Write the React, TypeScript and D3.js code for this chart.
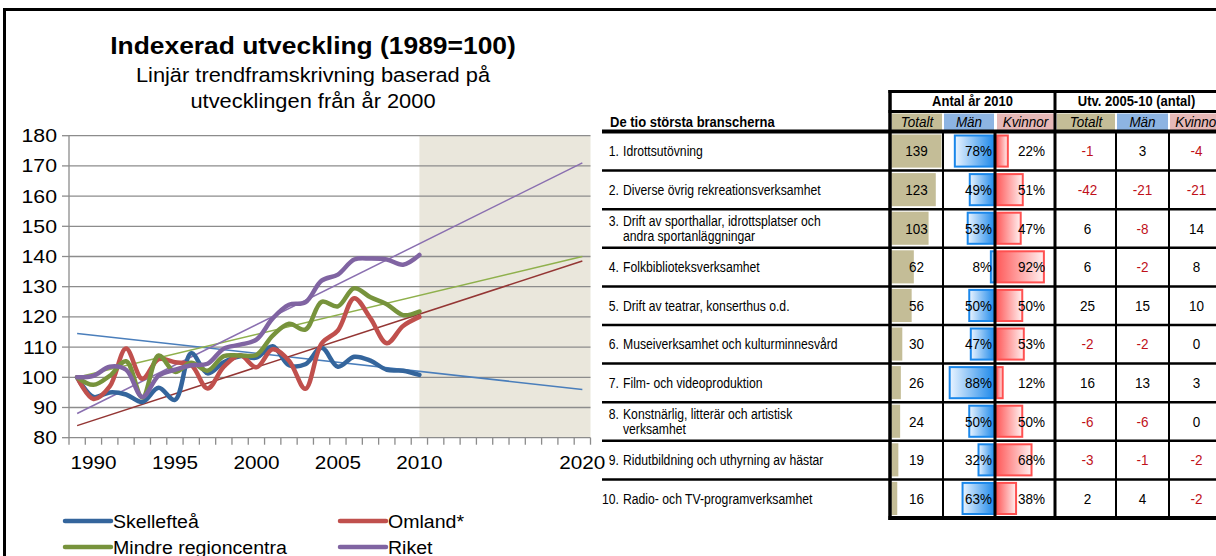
import React from "react";
import * as d3 from "d3";

// chart data
const dataYears = [1989, 1990, 1991, 1992, 1993, 1994, 1995, 1996, 1997, 1998, 1999, 2000, 2001, 2002, 2003, 2004, 2005, 2006, 2007, 2008, 2009, 2010];
const axisYears = d3.range(1989, 2021);
const tickYears = [1990, 1995, 2000, 2005, 2010, 2020];
const yTicks = [80, 90, 100, 110, 120, 130, 140, 150, 160, 170, 180];

const skelleftea = [100, 93.5, 95, 94.3, 91.8, 96.5, 92.5, 108, 101.3, 105, 107, 106.5, 110.3, 104, 104.3, 109.8, 103.5, 106.8, 105.5, 102.5, 102.2, 100.8];
const omland = [100, 92.8, 97, 109.5, 99.5, 106, 105, 104, 96.3, 103.5, 107.3, 103.3, 109.3, 105.5, 96.2, 111.2, 115.5, 126.2, 119.5, 111.3, 117, 120];
const mindre = [100, 97.5, 100.5, 105.3, 93.3, 107.2, 101.8, 104.8, 102.2, 107, 107.2, 107.4, 113.8, 117.7, 115.8, 125, 123.5, 129.5, 126.5, 124.2, 120.6, 121.8];
const riket = [100, 100.5, 103.5, 102.5, 93.5, 100.5, 102.5, 104, 104.5, 109.5, 110.8, 112.5, 119.5, 124, 124.8, 132, 134, 139, 139.3, 139, 137.3, 140.5];

// linear trend lines, 1989 -> 2020
const trendYears = [1989, 2020];
const trendSkelleftea = [114.5, 96];
const trendOmland = [84, 138.5];
const trendMindre = [100, 140];
const trendRiket = [88, 171];

// table data
const branches = [
  ["Idrottsutövning"],
  ["Diverse övrig rekreationsverksamhet"],
  ["Drift av sporthallar, idrottsplatser och", "andra sportanläggningar"],
  ["Folkbiblioteksverksamhet"],
  ["Drift av teatrar, konserthus o.d."],
  ["Museiverksamhet och kulturminnesvård"],
  ["Film- och videoproduktion"],
  ["Konstnärlig, litterär och artistisk", "verksamhet"],
  ["Ridutbildning och uthyrning av hästar"],
  ["Radio- och TV-programverksamhet"],
];
const totalt2010 = [139, 123, 103, 62, 56, 30, 26, 24, 19, 16];
const manPct = [78, 49, 53, 8, 50, 47, 88, 50, 32, 63];
const kvinnorPct = [22, 51, 47, 92, 50, 53, 12, 50, 68, 38];
const utvTotalt = [-1, -42, 6, 6, 25, -2, 16, -6, -3, 2];
const utvMan = [3, -21, -8, -2, 15, -2, 13, -6, -1, 4];
const utvKvinnor = [-4, -21, 14, 8, 10, 0, 3, 0, -2, -2];

const FONT = "'Liberation Sans', Arial, sans-serif";

const series = [
  { name: "Skellefteå", values: skelleftea, trend: trendSkelleftea, color: "#34659c", trendColor: "#4a7ebb" },
  { name: "Omland*", values: omland, trend: trendOmland, color: "#c0504d", trendColor: "#943634" },
  { name: "Mindre regioncentra", values: mindre, trend: trendMindre, color: "#77933c", trendColor: "#8fb04c" },
  { name: "Riket", values: riket, trend: trendRiket, color: "#8064a2", trendColor: "#8a6fb0" },
];

// text slightly stretched sideways like the pasted picture
function SText({ x, y, children, size, anchor = "start", weight = "normal", sx = 1.1, style = "normal", fill = "#000" }: any) {
  return (
    <text
      transform={`translate(${x},${y}) scale(${sx},1)`}
      fontSize={size}
      fontFamily={FONT}
      fontWeight={weight}
      fontStyle={style}
      textAnchor={anchor}
      fill={fill}
    >
      {children}
    </text>
  );
}

function LineChart() {
  const x = d3.scaleBand<number>().domain(axisYears).range([69, 590.5]);
  const xc = (yr: number) => (x(yr) as number) + x.bandwidth() / 2;
  const y = d3.scaleLinear().domain([80, 180]).range([437.7, 135.7]);
  const line = d3
    .line<number>()
    .x((_, i) => xc(dataYears[i]))
    .y((d) => y(d))
    .curve(d3.curveCatmullRom.alpha(0.5));
  const trendLine = d3
    .line<number>()
    .x((_, i) => xc(trendYears[i]))
    .y((d) => y(d));

  const [x0, x1] = x.range();
  return (
    <g>
      <SText x={313} y={54} size={24} weight="bold" anchor="middle" sx={1.1}>Indexerad utveckling (1989=100)</SText>
      <SText x={313} y={82} size={19.5} anchor="middle" sx={1.12}>Linjär trendframskrivning baserad på</SText>
      <SText x={313} y={108} size={19.5} anchor="middle" sx={1.12}>utvecklingen från år 2000</SText>

      <rect x={xc(2010)} y={y(180)} width={x1 - xc(2010)} height={y(80) - y(180)} fill="#eae7dc" />
      {yTicks.map((t) => (
        <g key={t}>
          <line x1={x0} x2={x1} y1={y(t)} y2={y(t)} stroke="#8c8c8c" strokeWidth={1.3} />
          <line x1={x0 - 7} x2={x0} y1={y(t)} y2={y(t)} stroke="#8c8c8c" strokeWidth={1.3} />
          <SText x={57} y={y(t) + 6.5} size={18.5} anchor="end" sx={1.15}>{t}</SText>
        </g>
      ))}
      <line x1={x0} x2={x0} y1={y(180)} y2={y(80)} stroke="#8c8c8c" strokeWidth={1.3} />
      {axisYears.concat([2021]).map((yr, i) => {
        const px = i < axisYears.length ? (x(yr) as number) : x1;
        return <line key={yr} x1={px} x2={px} y1={y(80)} y2={y(80) + 7} stroke="#8c8c8c" strokeWidth={1.3} />;
      })}
      {tickYears.map((yr) => (
        <SText key={yr} x={xc(yr)} y={469} size={18.5} anchor="middle" sx={1.12}>{yr}</SText>
      ))}

      {series.map((s) => (
        <path key={s.name + "t"} d={trendLine(s.trend) as string} fill="none" stroke={s.trendColor} strokeWidth={1.5} />
      ))}
      {series.map((s) => (
        <path key={s.name} d={line(s.values) as string} fill="none" stroke={s.color} strokeWidth={4.5} strokeLinecap="round" strokeLinejoin="round" />
      ))}

      {series.map((s, i) => {
        const lx = i % 2 === 0 ? 65 : 340;
        const ly = i < 2 ? 521 : 547;
        return (
          <g key={s.name + "l"}>
            <line x1={lx} x2={lx + 46} y1={ly} y2={ly} stroke={s.color} strokeWidth={4.5} strokeLinecap="round" />
            <SText x={lx + 48} y={ly + 7} size={19} sx={1.03}>{s.name}</SText>
          </g>
        );
      })}
    </g>
  );
}

function Table() {
  const rows = d3.scaleBand<number>().domain(d3.range(branches.length)).range([132, 518]);
  const totScale = d3.scaleLinear().domain([0, 140]).range([0, 50.4]);
  const pctScale = d3.scaleLinear().domain([0, 100]).range([0, 51.5]);
  const cols = { left: 890, tot: 943, mid: 995, kv: 1055, ut: 1116, um: 1169, ur: 1226 };
  const sy = 1.15;
  const num = (v: number) => (v < 0 ? "#c0101a" : "#000");
  const TT = ({ x, y, children, anchor = "middle", size = 13.5, weight = "normal", style = "normal", fill = "#000" }: any) => (
    <text transform={`translate(${x},${y}) scale(1,${sy})`} fontSize={size} fontFamily={FONT} textAnchor={anchor} fontWeight={weight} fontStyle={style} fill={fill}>
      {children}
    </text>
  );
  const subHeads = [
    { x0: cols.left + 2, x1: cols.tot - 1, label: "Totalt", fill: "#c4bd97" },
    { x0: cols.tot + 1, x1: cols.mid - 1, label: "Män", fill: "#8db4e2" },
    { x0: cols.mid + 2, x1: cols.kv - 1, label: "Kvinnor", fill: "#e6b8b7" },
    { x0: cols.kv + 2, x1: cols.ut - 1, label: "Totalt", fill: "#c4bd97" },
    { x0: cols.ut + 1, x1: cols.um - 1, label: "Män", fill: "#8db4e2" },
    { x0: cols.um + 1, x1: cols.ur, label: "Kvinnor", fill: "#e6b8b7" },
  ];
  return (
    <g>
      <defs>
        <linearGradient id="gMan" x1="0" x2="1" y1="0" y2="0">
          <stop offset="0" stopColor="#eaf4ff" />
          <stop offset="1" stopColor="#1a87ea" />
        </linearGradient>
        <linearGradient id="gKv" x1="0" x2="1" y1="0" y2="0">
          <stop offset="0" stopColor="#ff5a5a" />
          <stop offset="1" stopColor="#fff0f0" />
        </linearGradient>
      </defs>

      <TT x={610} y={127} anchor="start" size={13} weight="bold">De tio största branscherna</TT>
      <TT x={(cols.left + cols.kv) / 2} y={106} size={13} weight="bold">Antal år 2010</TT>
      <TT x={(cols.kv + cols.ur) / 2 - 4} y={106} size={13} weight="bold">Utv. 2005-10 (antal)</TT>
      {subHeads.map((h, i) => (
        <g key={i}>
          <rect x={h.x0} y={113.5} width={h.x1 - h.x0} height={17} fill={h.fill} />
          <TT x={(h.x0 + h.x1) / 2} y={127} size={13.5} style="italic">{h.label}</TT>
        </g>
      ))}

      {branches.map((b, i) => {
        const top = rows(i) as number;
        const h = rows.bandwidth();
        const cy = top + h / 2;
        const bt = top + 3.5;
        const bh = h - 7.5;
        const wm = pctScale(manPct[i]);
        const wk = pctScale(kvinnorPct[i]);
        return (
          <g key={i}>
            <TT x={619} y={b.length === 1 ? cy + 5 : cy - 3} anchor="end" size={12.2}>{`${i + 1}.`}</TT>
            {b.map((ln, j) => (
              <TT key={j} x={623} y={(b.length === 1 ? cy + 5 : cy - 3) + j * 15.5} anchor="start" size={12.2}>{ln}</TT>
            ))}
            <rect x={cols.left + 1.5} y={bt - 1} width={totScale(totalt2010[i])} height={bh + 2} fill="#c4bd97" />
            <rect x={cols.mid - wm} y={bt} width={wm} height={bh} fill="url(#gMan)" stroke="#1a87ea" strokeWidth={2} />
            <rect x={cols.mid + 1.5} y={bt} width={wk} height={bh} fill="url(#gKv)" stroke="#ff5050" strokeWidth={2} />
            <TT x={(cols.left + cols.tot) / 2} y={cy + 5}>{totalt2010[i]}</TT>
            <TT x={cols.mid - 3} y={cy + 5} anchor="end">{`${manPct[i]}%`}</TT>
            <TT x={cols.kv - 10} y={cy + 5} anchor="end">{`${kvinnorPct[i]}%`}</TT>
            <TT x={(cols.kv + cols.ut) / 2 + 2} y={cy + 5} fill={num(utvTotalt[i])}>{utvTotalt[i]}</TT>
            <TT x={(cols.ut + cols.um) / 2} y={cy + 5} fill={num(utvMan[i])}>{utvMan[i]}</TT>
            <TT x={(cols.um + cols.ur) / 2 - 1} y={cy + 5} fill={num(utvKvinnor[i])}>{utvKvinnor[i]}</TT>
          </g>
        );
      })}

      {/* grid lines */}
      <line x1={888.5} x2={1216} y1={91.5} y2={91.5} stroke="#000" strokeWidth={3} />
      <line x1={888.5} x2={1216} y1={111.5} y2={111.5} stroke="#000" strokeWidth={3} />
      <line x1={602} x2={1216} y1={131.5} y2={131.5} stroke="#000" strokeWidth={4} />
      {d3.range(1, branches.length).map((i) => (
        <line key={i} x1={602} x2={1216} y1={rows(i) as number} y2={rows(i) as number} stroke="#000" strokeWidth={2.5} />
      ))}
      <line x1={888.5} x2={1216} y1={518} y2={518} stroke="#000" strokeWidth={4} />
      <line x1={cols.left} x2={cols.left} y1={90} y2={520} stroke="#000" strokeWidth={3.5} />
      <line x1={cols.kv} x2={cols.kv} y1={90} y2={520} stroke="#000" strokeWidth={3} />
      <line x1={cols.mid} x2={cols.mid} y1={131} y2={520} stroke="#000" strokeWidth={3} />
      {[cols.tot, cols.ut, cols.um].map((cx) => (
        <line key={cx} x1={cx} x2={cx} y1={131} y2={520} stroke="#000" strokeWidth={2} />
      ))}
    </g>
  );
}

export default function App() {
  return (
    <svg width={1216} height={556} style={{ position: "absolute", left: 0, top: 0, background: "#fff" }}>
      <rect x={0} y={0} width={1216} height={556} fill="#fff" />
      <path d="M4.5,560 L4.5,9.5 L1220,9.5" fill="none" stroke="#000" strokeWidth={3} />
      <LineChart />
      <Table />
    </svg>
  );
}
